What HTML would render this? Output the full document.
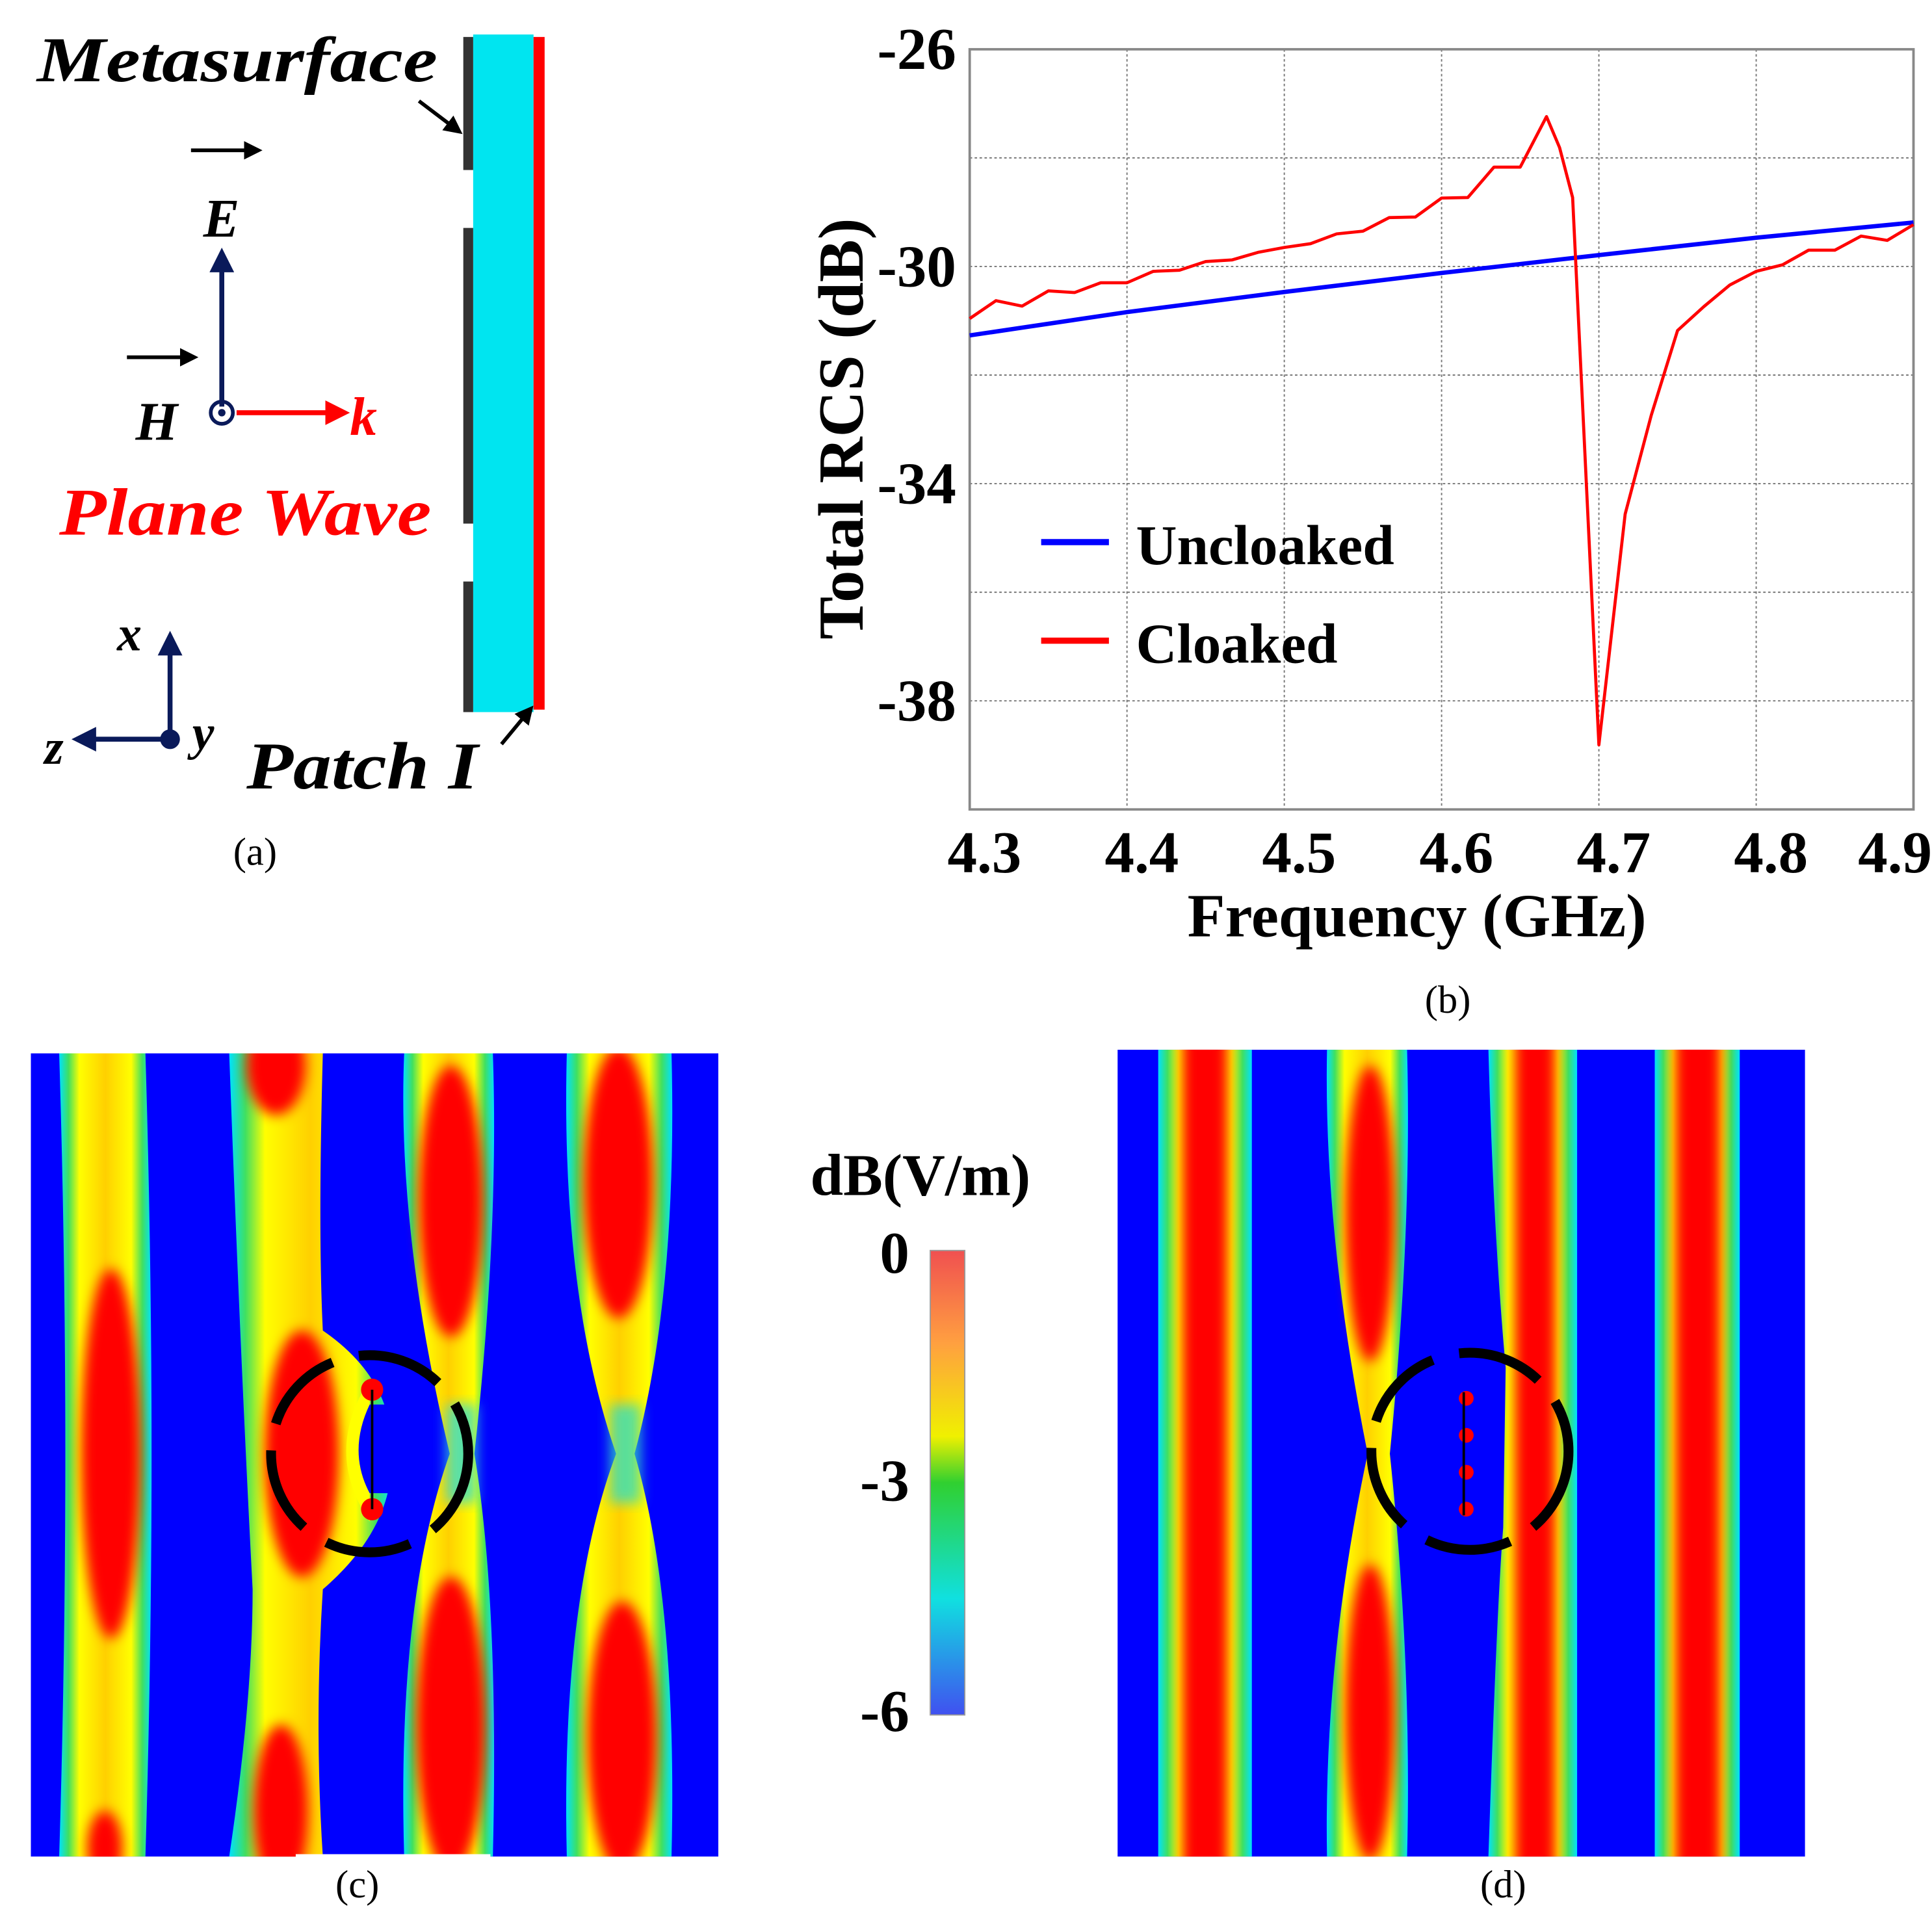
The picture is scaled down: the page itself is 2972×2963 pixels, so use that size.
<!DOCTYPE html>
<html><head><meta charset="utf-8"><style>
html,body{margin:0;padding:0;background:#fff;}
svg{display:block;}
text{font-family:"Liberation Serif",serif;}
</style></head><body>
<svg id="fig" width="2972" height="2963" viewBox="0 0 1568 1563.3" xmlns="http://www.w3.org/2000/svg">
<defs>
 <marker id="ab" viewBox="0 0 10 10" refX="8" refY="5" markerWidth="5" markerHeight="5" orient="auto"><path d="M0,0 L10,5 L0,10 z" fill="#000"/></marker>
 <marker id="an" viewBox="0 0 10 10" refX="8" refY="5" markerWidth="5" markerHeight="5" orient="auto"><path d="M0,0 L10,5 L0,10 z" fill="#0a1a5a"/></marker>
 <marker id="ar" viewBox="0 0 10 10" refX="8" refY="5" markerWidth="5" markerHeight="5" orient="auto"><path d="M0,0 L10,5 L0,10 z" fill="#f00"/></marker>
 <linearGradient id="band" x1="0" x2="1" y1="0" y2="0">
  <stop offset="0" stop-color="#00e0ff"/><stop offset="0.1" stop-color="#40e060"/><stop offset="0.22" stop-color="#ffff00"/>
  <stop offset="0.5" stop-color="#ffd000"/><stop offset="0.78" stop-color="#ffff00"/><stop offset="0.9" stop-color="#40e060"/><stop offset="1" stop-color="#00e0ff"/>
 </linearGradient>
 <linearGradient id="cbar" x1="0" x2="0" y1="0" y2="1">
  <stop offset="0" stop-color="#f05050"/><stop offset="0.2" stop-color="#ffa040"/><stop offset="0.4" stop-color="#f0f000"/>
  <stop offset="0.5" stop-color="#30d030"/><stop offset="0.75" stop-color="#10e0e0"/><stop offset="1" stop-color="#4050f0"/>
 </linearGradient>
 <filter id="bl" x="-50%" y="-10%" width="200%" height="120%"><feGaussianBlur stdDeviation="5"/></filter>
 <clipPath id="clipc"><rect x="25" y="855" width="558" height="652"/></clipPath>
 <clipPath id="clipd"><rect x="907" y="852" width="558" height="655"/></clipPath>
</defs>

<!-- Panel (a) -->
<g>
 <text x="30" y="66" font-size="52" font-weight="bold" font-style="italic" textLength="325" lengthAdjust="spacingAndGlyphs">Metasurface</text>
 <line x1="340" y1="82" x2="373" y2="107" stroke="#000" stroke-width="3" marker-end="url(#ab)"/>
 <rect x="384" y="28" width="49" height="550" fill="#00e5f0"/>
 <rect x="433" y="30" width="9" height="546" fill="#f00"/>
 <rect x="376" y="30" width="8" height="108" fill="#333"/>
 <rect x="376" y="185" width="8" height="240" fill="#333"/>
 <rect x="376" y="472" width="8" height="106" fill="#333"/>
 <line x1="180" y1="330" x2="180" y2="205" stroke="#0a1a5a" stroke-width="4" marker-end="url(#an)"/>
 <line x1="155" y1="122" x2="210" y2="122" stroke="#000" stroke-width="3" marker-end="url(#ab)"/>
 <text x="165" y="192" font-size="44" font-weight="bold" font-style="italic">E</text>
 <line x1="103" y1="290" x2="158" y2="290" stroke="#000" stroke-width="3" marker-end="url(#ab)"/>
 <text x="110" y="357" font-size="44" font-weight="bold" font-style="italic">H</text>
 <line x1="192" y1="335" x2="280" y2="335" stroke="#f00" stroke-width="4" marker-end="url(#ar)"/>
 <circle cx="180" cy="335" r="9" fill="none" stroke="#0a1a5a" stroke-width="3"/>
 <circle cx="180" cy="335" r="3" fill="#0a1a5a"/>
 <text x="284" y="353" font-size="44" font-weight="bold" font-style="italic" fill="#f00">k</text>
 <text x="48" y="434" font-size="54" font-weight="bold" font-style="italic" fill="#f00" textLength="302" lengthAdjust="spacingAndGlyphs">Plane Wave</text>
 <line x1="138" y1="600" x2="138" y2="516" stroke="#0a1a5a" stroke-width="4" marker-end="url(#an)"/>
 <line x1="138" y1="600" x2="62" y2="600" stroke="#0a1a5a" stroke-width="4" marker-end="url(#an)"/>
 <circle cx="138" cy="600" r="8" fill="#0a1a5a"/>
 <text x="95" y="528" font-size="40" font-weight="bold" font-style="italic">x</text>
 <text x="36" y="620" font-size="40" font-weight="bold" font-style="italic">z</text>
 <text x="156" y="608" font-size="40" font-weight="bold" font-style="italic">y</text>
 <text x="200" y="640" font-size="54" font-weight="bold" font-style="italic" textLength="188" lengthAdjust="spacingAndGlyphs">Patch I</text>
 <line x1="407" y1="604" x2="431" y2="575" stroke="#000" stroke-width="3" marker-end="url(#ab)"/>
 <text x="207" y="702" font-size="32" text-anchor="middle">(a)</text>
</g>

<!-- Panel (b) chart -->
<g id="chart"></g>

<!-- Panel (c) -->
<g>
 <g clip-path="url(#clipc)">
 <rect x="25" y="855" width="558" height="652" fill="#0000ff"/>
 <path d="M48,855 L118,855 Q128,1180 118,1507 L48,1507 Q58,1180 48,855Z" fill="url(#band)"/>
 <path d="M186,855 L262,855 Q258,1000 262,1080 Q320,1120 318,1180 Q320,1240 262,1290 Q255,1400 262,1507 L186,1507 Q205,1380 205,1290 Q195,1100 186,855Z" fill="url(#band)"/>
 <path d="M328,855 L400,855 Q405,1000 385,1180 Q405,1300 400,1507 L328,1507 Q322,1300 365,1180 Q322,1000 328,855Z" fill="url(#band)"/>
 <path d="M460,855 L545,855 Q550,1050 515,1180 Q550,1300 545,1507 L460,1507 Q455,1300 500,1180 Q455,1050 460,855Z" fill="url(#band)"/>
 <rect x="495" y="1140" width="25" height="80" fill="#30e0c0" opacity="0.8" filter="url(#bl)"/>
 <rect x="362" y="1140" width="25" height="80" fill="#30e0d0" opacity="0.8" filter="url(#bl)"/>
 <g filter="url(#bl)" fill="#ff0000">
  <ellipse cx="90" cy="1180" rx="24" ry="150"/>
  <ellipse cx="85" cy="1500" rx="14" ry="30"/>
  <ellipse cx="224" cy="865" rx="24" ry="40"/>
  <ellipse cx="245" cy="1180" rx="30" ry="100"/>
  <ellipse cx="228" cy="1470" rx="22" ry="70"/>
  <ellipse cx="366" cy="975" rx="26" ry="110"/>
  <ellipse cx="366" cy="1400" rx="28" ry="120"/>
  <ellipse cx="502" cy="960" rx="28" ry="110"/>
  <ellipse cx="505" cy="1410" rx="28" ry="110"/>
 </g>
 </g>
 <path d="M300,1120 Q262,1178 300,1235 L300,1212 Q282,1178 300,1140 Z" fill="#ffff00"/>
 <path d="M300,1140 Q282,1178 300,1212 L330,1212 L330,1140 Z" fill="#0000ff"/>
 <circle cx="302" cy="1128" r="9" fill="#f00"/><circle cx="302" cy="1225" r="9" fill="#f00"/>
 <line x1="302" y1="1128" x2="302" y2="1225" stroke="#000" stroke-width="2"/>
 <circle cx="300" cy="1180" r="80" fill="none" stroke="#000" stroke-width="8" stroke-dasharray="70 22"/>
 <rect x="240" y="1505" width="158" height="5" fill="#fff"/>
 <text x="290" y="1540" font-size="32" text-anchor="middle">(c)</text>
</g>

<!-- Colorbar -->
<g>
 <text x="747" y="970" font-size="48" font-weight="bold" text-anchor="middle">dB(V/m)</text>
 <rect x="755" y="1015" width="28" height="377" fill="url(#cbar)" stroke="#999" stroke-width="1"/>
 <text x="738" y="1033" font-size="48" font-weight="bold" text-anchor="end">0</text>
 <text x="738" y="1218" font-size="48" font-weight="bold" text-anchor="end">-3</text>
 <text x="738" y="1405" font-size="48" font-weight="bold" text-anchor="end">-6</text>
</g>

<!-- Panel (d) -->
<g>
 <g clip-path="url(#clipd)">
 <rect x="907" y="852" width="558" height="655" fill="#0000ff"/>
 <rect x="940" y="852" width="76" height="655" fill="url(#band)"/>
 <path d="M1077,852 L1142,852 Q1146,1000 1128,1180 Q1146,1350 1142,1507 L1077,1507 Q1074,1350 1110,1180 Q1074,1000 1077,852Z" fill="url(#band)"/>
 <path d="M1208,852 L1280,852 L1280,1507 L1208,1507 Q1215,1300 1220,1240 L1222,1110 Q1212,1000 1208,852Z" fill="url(#band)"/>
 <rect x="1343" y="852" width="69" height="655" fill="url(#band)"/>
 <g filter="url(#bl)" fill="#ff0000">
  <rect x="960" y="840" width="36" height="680"/>
  <ellipse cx="1112" cy="985" rx="20" ry="120"/>
  <ellipse cx="1112" cy="1390" rx="20" ry="120"/>
  <rect x="1230" y="840" width="32" height="680"/>
  <rect x="1360" y="840" width="36" height="680"/>
 </g>
 </g>
 <circle cx="1190" cy="1135" r="6" fill="#f00"/><circle cx="1190" cy="1165" r="6" fill="#f00"/><circle cx="1190" cy="1195" r="6" fill="#f00"/><circle cx="1190" cy="1225" r="6" fill="#f00"/>
 <line x1="1188" y1="1130" x2="1188" y2="1230" stroke="#000" stroke-width="2"/>
 <circle cx="1193" cy="1178" r="80" fill="none" stroke="#000" stroke-width="8" stroke-dasharray="70 22"/>
 <text x="1220" y="1540" font-size="32" text-anchor="middle">(d)</text>
</g>
</svg>

<script>
const freqBlue = [4.3, 4.4, 4.5, 4.6, 4.7, 4.8, 4.9];
const rcsBlue = [-31.27, -30.84, -30.47, -30.12, -29.79, -29.47, -29.19];
const freqRed = [4.3,4.3167,4.3333,4.35,4.3667,4.3833,4.4,4.4167,4.4333,4.45,4.4667,4.4833,4.5,4.5167,4.5333,4.55,4.5667,4.5833,4.6,4.6167,4.6333,4.65,4.6667,4.675,4.6833,4.7,4.7167,4.7333,4.75,4.7667,4.7833,4.8,4.8167,4.8333,4.85,4.8667,4.8833,4.9];
const rcsRed = [-30.96,-30.63,-30.73,-30.45,-30.48,-30.30,-30.30,-30.09,-30.07,-29.91,-29.88,-29.74,-29.65,-29.58,-29.40,-29.35,-29.10,-29.09,-28.74,-28.73,-28.17,-28.17,-27.24,-27.81,-28.73,-38.81,-34.56,-32.74,-31.18,-30.74,-30.34,-30.09,-29.97,-29.70,-29.70,-29.44,-29.52,-29.23];
const xTicks = [4.3, 4.4, 4.5, 4.6, 4.7, 4.8, 4.9];
const xTickLabels = ["4.3","4.4","4.5","4.6","4.7","4.8","4.9"];
const yTicks = [-26, -30, -34, -38];
const yTickLabels = ["-26","-30","-34","-38"];
const yGrid = [-28, -30, -32, -34, -36, -38];
const legendLabels = ["Uncloaked", "Cloaked"];

const L=787,R=1553,T=40,B=657, xmin=4.3,xmax=4.9,ymin=-40,ymax=-26;
const sx=v=>L+(v-xmin)/(xmax-xmin)*(R-L);
const sy=v=>T+(ymax-v)/(ymax-ymin)*(B-T);
const NS="http://www.w3.org/2000/svg";
const g=document.getElementById('chart');
function mk(tag,attrs,parent){const e=document.createElementNS(NS,tag);for(const k in attrs)e.setAttribute(k,attrs[k]);(parent||g).appendChild(e);return e;}

const bg=mk('rect',{x:L,y:T,width:R-L,height:B-T,fill:'#fff'});


xTicks.slice(1,-1).forEach(v=>{
 const l=mk('line',{x1:sx(v),x2:sx(v),y1:T,y2:B,stroke:'#777','stroke-width':1,'stroke-dasharray':'2 2'});
 
 
});
yGrid.forEach(v=>{
 const l=mk('line',{x1:L,x2:R,y1:sy(v),y2:sy(v),stroke:'#777','stroke-width':1,'stroke-dasharray':'2 2'});
 
 
});
const frame=mk('rect',{x:L,y:T,width:R-L,height:B-T,fill:'none',stroke:'#888','stroke-width':2});



function series(xs,ys,color,w,name){
 const p=mk('polyline',{points:xs.map((x,i)=>sx(x)+','+sy(ys[i])).join(' '),fill:'none',stroke:color,'stroke-width':w,'stroke-linejoin':'round'});
 
 
}
series(freqBlue,rcsBlue,'#0000ff',3.5,'uncloaked-line');
series(freqRed,rcsRed,'#ff0000',2.5,'cloaked-line');

yTicks.forEach((v,i)=>{
 const t=mk('text',{x:776,y:sy(v)+16,'font-size':48,'font-weight':'bold','text-anchor':'end'});
 t.textContent=yTickLabels[i];
 
 
});
xTicks.forEach((v,i)=>{
 const last=i===xTicks.length-1;
 const t=mk('text',{x:last?1568:sx(v)+12,y:708,'font-size':48,'font-weight':'bold','text-anchor':last?'end':'middle'});
 t.textContent=xTickLabels[i];
 
 
});
const xt=mk('text',{x:1150,y:760,'font-size':50,'font-weight':'bold','text-anchor':'middle'});
xt.textContent='Frequency (GHz)';


const yt=mk('text',{x:0,y:0,'font-size':52,'font-weight':'bold','text-anchor':'middle',transform:'translate(700,348) rotate(-90)'});
yt.textContent='Total RCS (dB)';



const legColors=['#0000ff','#ff0000'];
legendLabels.forEach((lab,i)=>{
 const y=440+i*80;
 const l=mk('line',{x1:845,x2:900,y1:y,y2:y,stroke:legColors[i],'stroke-width':5});
 
 
 const t=mk('text',{x:922,y:y+18,'font-size':46,'font-weight':'bold'});
 t.textContent=lab;
 
 
});
const cap=mk('text',{x:1175,y:822,'font-size':32,'text-anchor':'middle'});
cap.textContent='(b)';


</script>
</body></html>
